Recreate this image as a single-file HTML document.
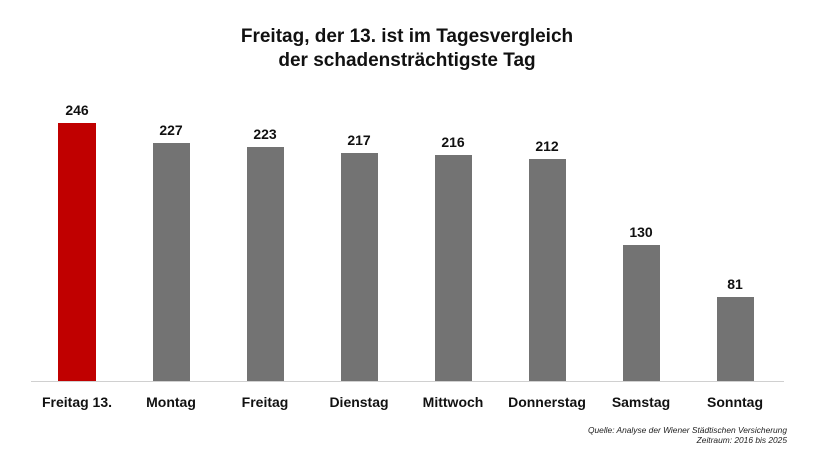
<!DOCTYPE html>
<html><head><meta charset="utf-8"><style>
body{margin:0;background:#fff;}
svg{display:block;font-family:"Liberation Sans",sans-serif;}
</style></head><body>
<svg width="814" height="466" viewBox="0 0 814 466">
<text x="407" y="42" font-size="19" font-weight="bold" text-anchor="middle" fill="#111">Freitag, der 13. ist im Tagesvergleich</text>
<text x="407" y="66" font-size="19" font-weight="bold" text-anchor="middle" fill="#111">der schadensträchtigste Tag</text>
<line x1="31" y1="381.5" x2="784" y2="381.5" stroke="#d0d0d0" stroke-width="1"/>
<g font-size="14" font-weight="bold" text-anchor="middle" fill="#111">
<rect x="58" y="123" width="38" height="258" fill="#c00000"/>
<text x="77" y="115">246</text>
<text x="77" y="407">Freitag 13.</text>
<rect x="153" y="143" width="37" height="238" fill="#737373"/>
<text x="171" y="135">227</text>
<text x="171" y="407">Montag</text>
<rect x="247" y="147" width="37" height="234" fill="#737373"/>
<text x="265" y="139">223</text>
<text x="265" y="407">Freitag</text>
<rect x="341" y="153" width="37" height="228" fill="#737373"/>
<text x="359" y="145">217</text>
<text x="359" y="407">Dienstag</text>
<rect x="435" y="155" width="37" height="226" fill="#737373"/>
<text x="453" y="147">216</text>
<text x="453" y="407">Mittwoch</text>
<rect x="529" y="159" width="37" height="222" fill="#737373"/>
<text x="547" y="151">212</text>
<text x="547" y="407">Donnerstag</text>
<rect x="623" y="245" width="37" height="136" fill="#737373"/>
<text x="641" y="237">130</text>
<text x="641" y="407">Samstag</text>
<rect x="717" y="297" width="37" height="84" fill="#737373"/>
<text x="735" y="289">81</text>
<text x="735" y="407">Sonntag</text>
</g>
<g font-size="8.4" font-style="italic" text-anchor="end" fill="#222">
<text x="787" y="433">Quelle: Analyse der Wiener Städtischen Versicherung</text>
<text x="787" y="443">Zeitraum: 2016 bis 2025</text>
</g>
</svg>
</body></html>
